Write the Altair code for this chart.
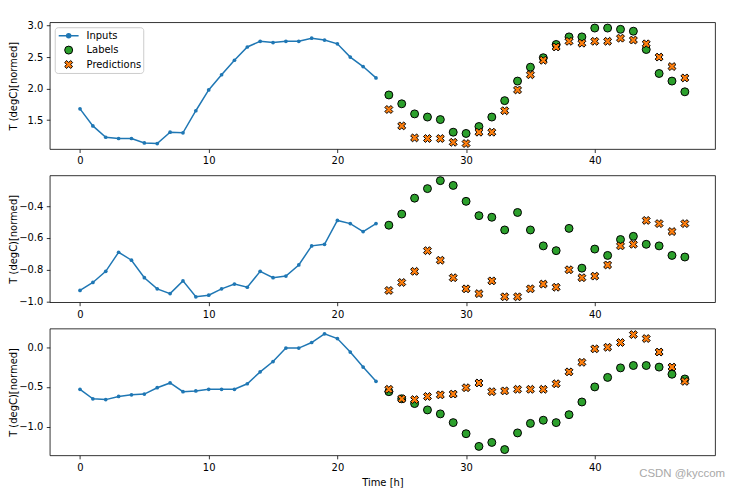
import altair as alt
import pandas as pd

# ---------------- data ----------------
time_in = list(range(0, 24))
time_out = list(range(24, 48))
series_names = ["Inputs", "Labels", "Predictions"]

inputs_1 = [1.68, 1.41, 1.23, 1.21, 1.21, 1.14, 1.13, 1.31, 1.30, 1.65, 1.98, 2.22,
            2.45, 2.66, 2.75, 2.73, 2.75, 2.75, 2.80, 2.77, 2.71, 2.50, 2.35, 2.17]
labels_1 = [1.90, 1.76, 1.60, 1.55, 1.51, 1.31, 1.29, 1.40, 1.55, 1.81, 2.12, 2.34,
            2.49, 2.70, 2.82, 2.82, 2.96, 2.96, 2.94, 2.91, 2.62, 2.24, 2.12, 1.95]
preds_1 = [1.67, 1.41, 1.22, 1.21, 1.21, 1.15, 1.13, 1.31, 1.31, 1.65, 1.98, 2.22,
           2.45, 2.66, 2.75, 2.72, 2.75, 2.75, 2.80, 2.77, 2.71, 2.50, 2.35, 2.17]

inputs_2 = [-0.93, -0.88, -0.81, -0.69, -0.74, -0.85, -0.92, -0.95, -0.87, -0.97, -0.96, -0.92,
            -0.89, -0.91, -0.81, -0.85, -0.84, -0.77, -0.65, -0.64, -0.49, -0.51, -0.56, -0.51]
labels_2 = [-0.52, -0.45, -0.35, -0.29, -0.24, -0.27, -0.37, -0.46, -0.47, -0.55, -0.44, -0.55,
            -0.65, -0.68, -0.54, -0.79, -0.67, -0.71, -0.61, -0.59, -0.64, -0.65, -0.71, -0.72]
preds_2 = [-0.93, -0.88, -0.81, -0.68, -0.74, -0.85, -0.92, -0.95, -0.87, -0.97, -0.97, -0.92,
           -0.89, -0.91, -0.80, -0.85, -0.84, -0.77, -0.65, -0.64, -0.49, -0.51, -0.56, -0.51]

inputs_3 = [-0.53, -0.65, -0.66, -0.62, -0.60, -0.59, -0.51, -0.45, -0.56, -0.55, -0.53, -0.53,
            -0.53, -0.46, -0.31, -0.18, -0.01, -0.01, 0.06, 0.17, 0.11, -0.06, -0.25, -0.43]
labels_3 = [-0.56, -0.65, -0.71, -0.79, -0.84, -0.95, -1.09, -1.25, -1.20, -1.29, -1.08, -0.96,
            -0.92, -0.95, -0.85, -0.69, -0.50, -0.38, -0.26, -0.23, -0.23, -0.25, -0.34, -0.40]
preds_3 = [-0.53, -0.65, -0.66, -0.62, -0.60, -0.59, -0.51, -0.45, -0.56, -0.55, -0.53, -0.53,
           -0.53, -0.46, -0.31, -0.19, -0.02, -0.00, 0.06, 0.16, 0.11, -0.06, -0.25, -0.43]

y_domains = [[1.043, 3.052], [-1.004, -0.207], [-1.363, 0.236]]
y_ticks = [[1.5, 2.0, 2.5, 3.0], [-1.0, -0.8, -0.6, -0.4], [-1.0, -0.5, 0.0]]
x_ticks = [0, 10, 20, 30, 40]

# ---------------- styling ----------------
BLUE, GREEN, ORANGE = "#1f77b4", "#2ca02c", "#ff7f0e"
# legend glyph for the inputs: a short line with a dot (extends past the unit box on purpose)
INPUT_SYMBOL = "M-2.5,0L2.5,0M0.5,0A0.5,0.5,0,1,1,-0.5,0A0.5,0.5,0,1,1,0.5,0Z"
# filled "X" marker
X_SYMBOL = ("M-0.5,1L0,0.5L0.5,1L1,0.5L0.5,0L1,-0.5L0.5,-1L0,-0.5"
            "L-0.5,-1L-1,-0.5L-0.5,0L-1,0.5Z")

fill_scale = alt.Scale(domain=series_names, range=[BLUE, GREEN, ORANGE])
stroke_scale = alt.Scale(domain=series_names, range=[BLUE, "black", "black"])
shape_scale = alt.Scale(domain=series_names, range=[INPUT_SYMBOL, "circle", X_SYMBOL])

legend = alt.Legend(
    title=None, orient="none", legendX=5, legendY=5,
    fillColor="white", strokeColor="#cccccc", cornerRadius=3, padding=2,
    symbolSize=64, clipHeight=13, rowPadding=1.5, symbolOffset=7, labelOffset=13,
    symbolOpacity=1,
    symbolStrokeWidth={"expr": "datum.value === 'Inputs' ? 1.5 : 1"},
    labelFont="DejaVu Sans", labelFontSize=10, labelColor="black",
)


def panel(inp, lab, pred, ydom, yvals, first, last):
    df_in = pd.DataFrame({"t": time_in, "v": inp})
    df_lab = pd.DataFrame({"t": time_out, "v": lab})
    df_pred = pd.DataFrame({"t": time_out, "v": pred})

    x = alt.X("t:Q", scale=alt.Scale(domain=[-2.35, 49.35], nice=False, zero=False),
              axis=alt.Axis(values=x_ticks, format="d", title="Time [h]" if last else None,
                            titlePadding=5))
    y = alt.Y("v:Q", scale=alt.Scale(domain=ydom, nice=False, zero=False),
              axis=alt.Axis(values=yvals, format=".1f", title="T (degC)[normed]",
                            titleX=-31))

    line = alt.Chart(df_in).mark_line(
        color=BLUE, strokeWidth=1.5,
        point=alt.OverlayMarkDef(color=BLUE, filled=True, size=14, opacity=1)
    ).encode(x=x, y=y)
    labs = alt.Chart(df_lab).mark_point(
        shape="circle", filled=True, fill=GREEN, stroke="black", strokeWidth=1,
        size=64, opacity=1
    ).encode(x=x, y=y)
    preds = alt.Chart(df_pred).mark_point(
        shape=X_SYMBOL, filled=True, fill=ORANGE, stroke="black", strokeWidth=1,
        size=64, opacity=1
    ).encode(x=x, y=y)

    layers = [line, labs, preds]
    if first:
        key = alt.Chart(pd.DataFrame({"series": series_names})).mark_point(
            filled=True, opacity=0, size=64
        ).encode(
            fill=alt.Fill("series:N", scale=fill_scale, legend=legend),
            stroke=alt.Stroke("series:N", scale=stroke_scale, legend=legend),
            shape=alt.Shape("series:N", scale=shape_scale, legend=legend),
        )
        layers.append(key)
    if last:
        mark = alt.Chart(pd.DataFrame({"t": [0]})).mark_text(
            text="CSDN @kyccom", align="right", baseline="middle",
            font="Liberation Sans", fontSize=11.5, color="#a8a8a8"
        ).encode(x=alt.value(679), y=alt.value(146.5))
        layers.append(mark)
    return alt.layer(*layers).properties(width=669, height=127.5)


p1 = panel(inputs_1, labels_1, preds_1, y_domains[0], y_ticks[0], True, False)
p2 = panel(inputs_2, labels_2, preds_2, y_domains[1], y_ticks[1], False, False)
p3 = panel(inputs_3, labels_3, preds_3, y_domains[2], y_ticks[2], False, True)

chart = alt.vconcat(p1, p2, p3, spacing=26, bounds="flush").resolve_scale(
    x="independent", y="independent"
).properties(
    padding={"left": 0, "top": 10, "right": 5, "bottom": 0}
).configure_view(
    stroke="black", strokeWidth=0.8
).configure_axis(
    labelFont="DejaVu Sans", labelFontSize=10, labelColor="black",
    titleFont="DejaVu Sans", titleFontSize=10, titleFontWeight="normal", titleColor="black",
    tickColor="black", tickWidth=0.8, tickSize=3.5, labelPadding=3.5,
    domain=False, grid=False,
).configure_legend(
    strokeColor="#cccccc", fillColor="white"
)

chart.save("out.html", embed_options={"renderer": "svg", "actions": False})
